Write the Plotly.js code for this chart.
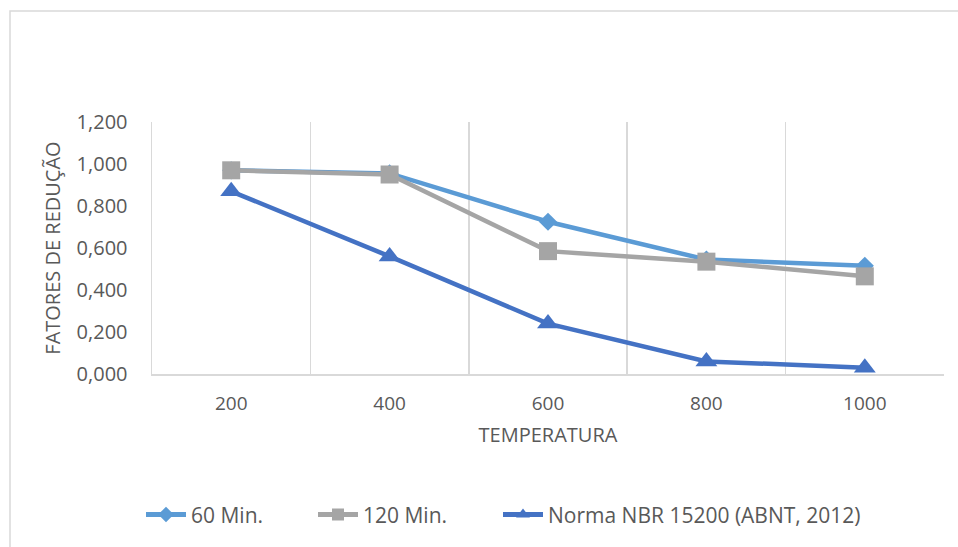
<!DOCTYPE html>
<html>
<head>
<meta charset="utf-8">
<script src="https://cdn.plot.ly/plotly-3.0.1.min.js"></script>
<style>
  html, body { margin: 0; padding: 0; background: #ffffff; }
  #chart { width: 958px; height: 547px; }
</style>
</head>
<body>
<div id="chart"></div>
<script>
// Temperatures (°C) on the category axis
const temperatures = ['200', '400', '600', '800', '1000'];

// Reduction factors for each exposure time and the NBR 15200 reference curve
const factors60Min = [0.970, 0.955, 0.725, 0.545, 0.515];
const factors120Min = [0.970, 0.950, 0.585, 0.535, 0.465];
const factorsNBR = [0.870, 0.560, 0.240, 0.060, 0.030];

const seriesNames = ['60 Min.', '120 Min.', 'Norma NBR 15200 (ABNT, 2012)'];

const FONT = 'Open Sans, Noto Sans, sans-serif';
const TEXT = '#595959';
const GRID = '#d9d9d9';

// Plot area in pixels (used to place paper-referenced items)
const PLOT = { left: 152, right: 944, top: 122, bottom: 376 };
const px2x = (px) => (px - PLOT.left) / (PLOT.right - PLOT.left);
const px2y = (py) => (PLOT.bottom - py) / (PLOT.bottom - PLOT.top);

function series(name, values, color, symbol, size, legendId) {
  return {
    type: 'scatter',
    mode: 'lines+markers',
    name: name,
    legend: legendId,
    x: temperatures,
    y: values,
    line: { color: color, width: 4.5 },
    marker: { color: color, symbol: symbol, size: size, line: { width: 0 } },
    cliponaxis: false,
    hoverinfo: 'x+y+name'
  };
}

const data = [
  series(seriesNames[0], factors60Min, '#5b9bd5', 'diamond', 14, 'legend'),
  series(seriesNames[1], factors120Min, '#a5a5a5', 'square', 18, 'legend2'),
  series(seriesNames[2], factorsNBR, '#4472c4', 'triangle-up', 19, 'legend3')
];

// One single-entry legend per series, laid out in a row under the axis title
function legendAt(pxLeft) {
  return {
    orientation: 'h',
    x: px2x(pxLeft), xanchor: 'left',
    y: px2y(518), yanchor: 'middle',
    font: { family: FONT, color: TEXT, size: 21 },
    itemsizing: 'constant',
    itemwidth: 40,
    bgcolor: 'rgba(0,0,0,0)'
  };
}

const layout = {
  width: 958,
  height: 547,
  margin: { l: 152, r: 14, t: 122, b: 171 },
  paper_bgcolor: '#ffffff',
  plot_bgcolor: '#ffffff',
  separators: ',.',
  font: { family: FONT, color: TEXT, size: 20 },
  showlegend: true,
  legend: legendAt(141),
  legend2: legendAt(313),
  legend3: legendAt(498),
  xaxis: {
    type: 'category',
    range: [-0.5, 4.5],
    tickson: 'boundaries',
    showgrid: true,
    gridcolor: GRID,
    gridwidth: 1.5,
    showline: true,
    linecolor: GRID,
    linewidth: 1.5,
    ticks: '',
    ticklabelstandoff: 12,
    tickfont: { family: FONT, color: TEXT, size: 19 },
    title: { text: 'TEMPERATURA', font: { family: FONT, color: TEXT, size: 20 }, standoff: 12 },
    fixedrange: true
  },
  yaxis: {
    range: [0, 1.2],
    dtick: 0.2,
    tick0: 0,
    tickformat: '.3f',
    showgrid: false,
    zeroline: false,
    showline: true,
    linecolor: GRID,
    linewidth: 1.5,
    ticks: '',
    ticklabelstandoff: 19,
    tickfont: { family: FONT, color: TEXT, size: 20 },
    title: { text: 'FATORES DE REDUÇÃO', font: { family: FONT, color: TEXT, size: 20 }, standoff: 10 },
    fixedrange: true
  },
  shapes: [
    {
      // chart-area frame
      type: 'rect', xref: 'paper', yref: 'paper', layer: 'below',
      x0: px2x(10), x1: 1.2,
      y0: -0.8, y1: px2y(10),
      line: { color: GRID, width: 1.5 },
      fillcolor: 'rgba(0,0,0,0)'
    }
  ]
};

Plotly.newPlot('chart', data, layout, { displayModeBar: false, staticPlot: true });
</script>
</body>
</html>
